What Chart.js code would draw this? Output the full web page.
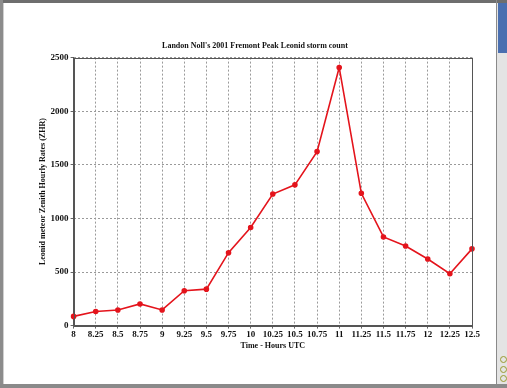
<!DOCTYPE html>
<html>
<head>
<meta charset="utf-8">
<script src="https://cdn.jsdelivr.net/npm/chart.js@4.4.0/dist/chart.umd.min.js"></script>
<style>
  html, body { margin: 0; padding: 0; background: #fff; }
  #wrap { position: relative; width: 507px; height: 388px; overflow: hidden; background: #fff; }
  #c { position: absolute; left: 0; top: 0; }
  .deco { position: absolute; pointer-events: none; }
</style>
</head>
<body>
<div id="wrap">
  <canvas id="c" width="507" height="388"></canvas>
  <div class="deco" style="left:0;top:0;width:507px;height:3px;background:#6e6e6e"></div>
  <div class="deco" style="left:0;top:0;width:3px;height:388px;background:#8c8c8c"></div>
  <div class="deco" style="left:3px;top:3px;width:1px;height:385px;background:#d0d0d0"></div>
  <div class="deco" style="left:0;top:384px;width:507px;height:4px;background:#8a8a8a"></div>
  <div class="deco" style="left:496px;top:0;width:1px;height:388px;background:#8a8a8a"></div>
  <div class="deco" style="left:497px;top:3px;width:10px;height:381px;background:#e4e4e4"></div>
  <div class="deco" style="left:498px;top:3px;width:9px;height:50px;background:#4a6fb0"></div>
  <div class="deco" style="left:500px;top:356px;width:5px;height:5px;border-radius:50%;border:1px solid #9a9a30"></div>
  <div class="deco" style="left:500px;top:366px;width:5px;height:5px;border-radius:50%;border:1px solid #9a9a30"></div>
  <div class="deco" style="left:500px;top:375px;width:5px;height:5px;border-radius:50%;border:1px solid #9a9a30"></div>
</div>
<script>
const hours = ['8','8.25','8.5','8.75','9','9.25','9.5','9.75','10','10.25','10.5','10.75','11','11.25','11.5','11.75','12','12.25','12.5'];
const zhr = [86, 132, 146, 202, 146, 325, 340, 680, 915, 1227, 1313, 1623, 2408, 1234, 827, 742, 621, 484, 716];
const yTicks = [0, 500, 1000, 1500, 2000, 2500];

const serif = '"Liberation Serif", "DejaVu Serif", serif';

const frame = {
  id: 'frame',
  afterDraw(chart) {
    const {ctx, chartArea: a} = chart;
    ctx.save();
    ctx.strokeStyle = '#555';
    ctx.lineWidth = 1;
    ctx.strokeRect(Math.round(a.left) + 0.5, Math.round(a.top) + 0.5, Math.round(a.right - a.left), Math.round(a.bottom - a.top));
    ctx.restore();
  }
};

new Chart(document.getElementById('c'), {
  type: 'line',
  data: {
    labels: hours,
    datasets: [{
      data: zhr,
      borderColor: '#e4141c',
      backgroundColor: '#e4141c',
      borderWidth: 1.6,
      pointRadius: 2,
      pointHoverRadius: 2,
      tension: 0,
      fill: false
    }]
  },
  options: {
    responsive: false,
    animation: false,
    events: [],
    layout: { padding: { top: 36, left: 38, right: 35, bottom: 37 } },
    plugins: {
      legend: { display: false },
      tooltip: { enabled: false },
      title: {
        display: true,
        text: "Landon Noll's 2001 Fremont Peak Leonid storm count",
        color: '#111',
        font: { family: serif, size: 8, weight: 'bold' },
        padding: { top: 5, bottom: 7 }
      }
    },
    scales: {
      x: {
        type: 'category',
        offset: false,
        grid: { color: '#9a9a9a', tickLength: 3, drawTicks: true, tickColor: '#666' },
        border: { display: true, color: '#555', dash: [2, 2] },
        ticks: { color: '#111', font: { family: serif, size: 9, weight: 'bold' }, padding: 1, maxRotation: 0, autoSkip: false },
        title: { display: true, text: 'Time - Hours UTC', color: '#111', font: { family: serif, size: 8, weight: 'bold' }, padding: { top: 0, bottom: 0 } }
      },
      y: {
        min: 0,
        max: 2500,
        afterBuildTicks(scale) { scale.ticks = yTicks.map(v => ({ value: v })); },
        grid: { color: '#9a9a9a', tickLength: 3, tickColor: '#666' },
        border: { display: true, color: '#555', dash: [2, 2] },
        ticks: { color: '#111', font: { family: serif, size: 9, weight: 'bold' }, padding: 2, callback: v => String(v) },
        title: { display: true, text: 'Leonid meteor Zenith Hourly Rates (ZHR)', color: '#111', font: { family: serif, size: 8, weight: 'bold' }, padding: { top: 0, bottom: 1 } }
      }
    }
  },
  plugins: [frame]
});
</script>
</body>
</html>
